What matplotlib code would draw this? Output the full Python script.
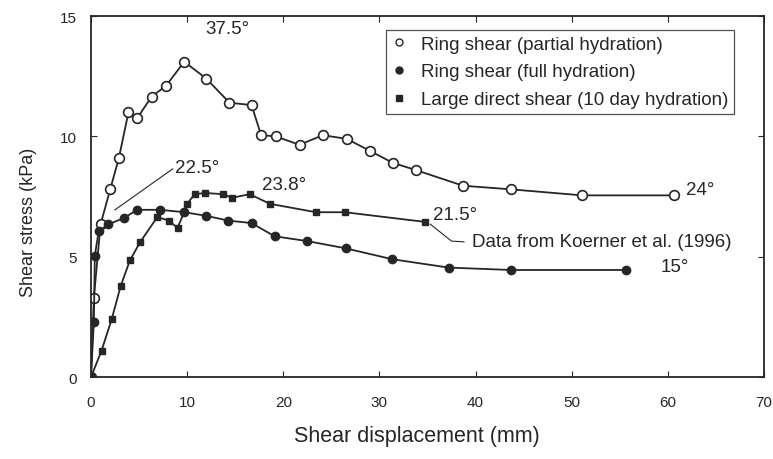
import matplotlib
matplotlib.use("Agg")
import matplotlib.pyplot as plt
from matplotlib.lines import Line2D

plt.rcParams['font.family'] = ['Liberation Sans', 'DejaVu Sans']

# ring shear, partial hydration (open circles)
partial_x = [0, 0.3, 1.0, 2.0, 2.9, 3.9, 4.8, 6.3, 7.8, 9.7, 12.0, 14.4, 16.7, 17.7,
             19.2, 21.7, 24.1, 26.6, 29.0, 31.4, 33.8, 38.7, 43.7, 51.1, 60.6]
partial_y = [0, 3.3, 6.35, 7.8, 9.1, 11.0, 10.75, 11.65, 12.1, 13.1, 12.4, 11.4, 11.3, 10.05,
             10.0, 9.65, 10.05, 9.9, 9.4, 8.9, 8.6, 7.95, 7.8, 7.55, 7.55]

# ring shear, full hydration (filled circles)
full_x = [0, 0.3, 0.4, 0.8, 1.8, 3.4, 4.8, 7.2, 9.7, 12.0, 14.3, 16.7, 19.1, 22.5,
          26.5, 31.3, 37.2, 43.7, 55.7]
full_y = [0, 2.3, 5.05, 6.05, 6.35, 6.6, 6.95, 6.95, 6.85, 6.7, 6.5, 6.4, 5.85, 5.65,
          5.35, 4.9, 4.55, 4.45, 4.45]

# large direct shear, 10 day hydration (squares)
direct_x = [0, 1.1, 2.15, 3.1, 4.05, 5.1, 6.9, 8.1, 9.0, 9.7, 10.0, 10.8, 11.9, 13.7,
            14.7, 16.5, 18.6, 23.4, 26.4, 34.7]
direct_y = [0, 1.1, 2.4, 3.8, 4.85, 5.6, 6.65, 6.5, 6.2, 6.85, 7.2, 7.6, 7.65, 7.6,
            7.45, 7.6, 7.2, 6.85, 6.85, 6.45]

legend_labels = ["Ring shear (partial hydration)", "Ring shear (full hydration)",
                 "Large direct shear (10 day hydration)"]

ink = "#262626"

fig = plt.figure(figsize=(7.73, 4.6), dpi=100)
ax = fig.add_axes([0.1177, 0.178, 0.8706, 0.785])

ax.plot(partial_x, partial_y, '-o', color=ink, lw=1.3, ms=7, mfc='white', mec=ink, mew=1.2)
ax.plot(full_x, full_y, '-o', color=ink, lw=1.3, ms=6, mfc=ink, mec=ink)
ax.plot(direct_x, direct_y, '-s', color=ink, lw=1.3, ms=5, mfc=ink, mec=ink)

# friction angle labels
tkw = dict(fontsize=13.5, color=ink)
ax.text(11.9, 14.5, "37.5°", va='center', **tkw)
ax.text(17.8, 8.0, "23.8°", va='center', **tkw)
ax.text(8.7, 8.7, "22.5°", va='center', **tkw)
ax.text(61.9, 7.8, "24°", va='center', **tkw)
ax.text(59.2, 4.6, "15°", va='center', **tkw)
ax.text(35.6, 6.75, "21.5°", va='center', **tkw)
ax.plot([2.5, 8.5], [6.95, 8.65], color=ink, lw=0.8)

ax.plot([35.3, 37.5, 38.8], [6.35, 5.65, 5.62], color=ink, lw=0.8)
ax.text(39.6, 5.65, "Data from Koerner et al. (1996)", va='center', **tkw)

ax.set_xlim(0, 70)
ax.set_ylim(0, 15)
ax.set_xticks(range(0, 71, 10))
ax.set_yticks([0, 5, 10, 15])
ax.tick_params(direction='in', length=4, width=0.8, top=True, right=True,
               labelsize=11, colors=ink, pad=10)
ax.tick_params(axis='x', pad=13)
for s in ax.spines.values():
    s.set_linewidth(1.3)
    s.set_color(ink)

ax.set_xlabel("Shear displacement (mm)", fontsize=15.5, color=ink)
ax.set_ylabel("Shear stress (kPa)", fontsize=13, color=ink)
ax.xaxis.set_label_coords(0.485, -0.132)
ax.yaxis.set_label_coords(-0.08, 0.432)

handles = [
    Line2D([], [], ls='none', marker='o', ms=5, mfc='white', mec=ink, mew=1.0),
    Line2D([], [], ls='none', marker='o', ms=5, mfc=ink, mec=ink),
    Line2D([], [], ls='none', marker='s', ms=4, mfc=ink, mec=ink),
]
leg = ax.legend(handles, legend_labels, loc='upper left', bbox_to_anchor=(0.438, 0.961),
                fontsize=13.5, frameon=True, fancybox=False, handlelength=0.8,
                handletextpad=0.8, borderpad=0.3, labelspacing=0.56, borderaxespad=0)
leg.get_frame().set_edgecolor(ink)
leg.get_frame().set_linewidth(0.9)
for t in leg.get_texts():
    t.set_color(ink)

fig.savefig("out.png", dpi=100)
